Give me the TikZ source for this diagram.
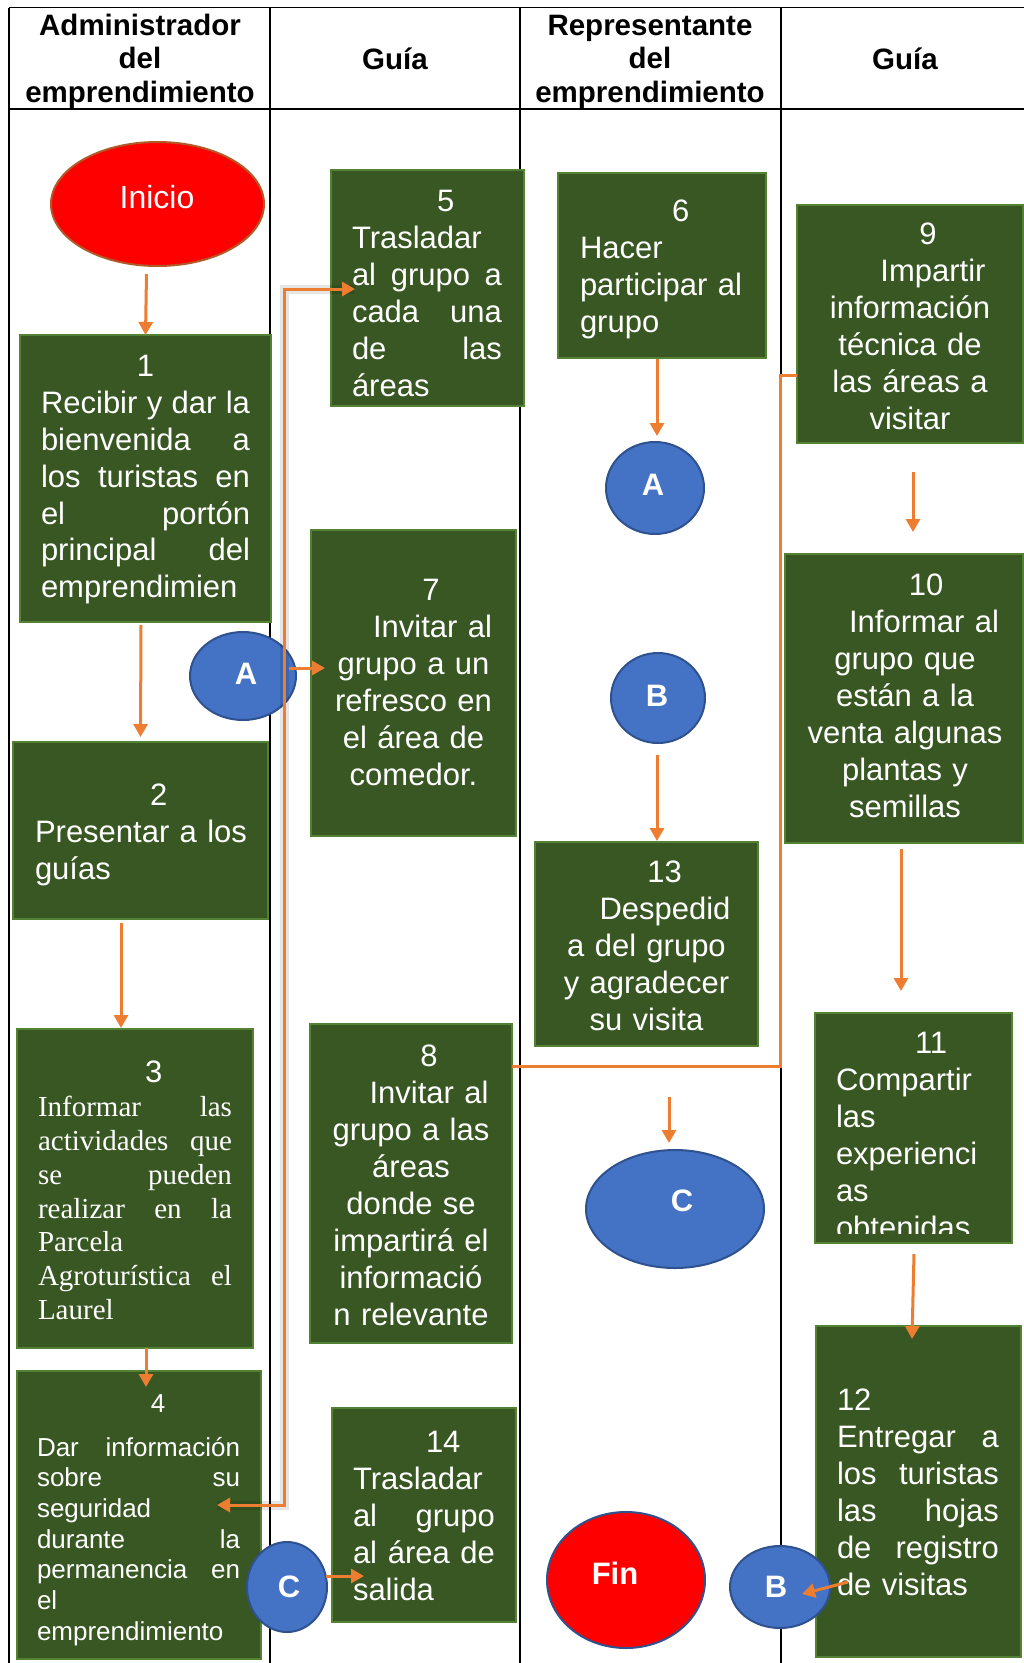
\documentclass[tikz,border=0pt]{standalone}
\usepackage{fontspec}
\setmainfont{Liberation Sans}
\newfontfamily\timesf{Liberation Serif}
\usetikzlibrary{arrows.meta,shapes.geometric}
\definecolor{boxfill}{RGB}{56,87,35}
\definecolor{boxborder}{RGB}{84,130,53}
\definecolor{orangec}{RGB}{237,125,49}
\definecolor{bluefill}{RGB}{68,114,196}
\definecolor{blueborder}{RGB}{47,82,143}
\definecolor{inicioborder}{RGB}{175,90,40}
\begin{document}
\begin{tikzpicture}[x=1pt,y=-1pt,
  gbox/.style={draw=boxborder,fill=boxfill,line width=2.5pt,inner sep=0pt,outer sep=0pt},
  bcirc/.style={ellipse,draw=blueborder,fill=bluefill,line width=2pt,inner sep=0pt,outer sep=0pt},
  oarrow/.style={draw=orangec,line width=3pt,-{Triangle[width=14pt,length=13pt]}},
  odouble/.style={draw=orangec,line width=3pt,{Triangle[width=14pt,length=13pt]}-{Triangle[width=14pt,length=13pt]}},
  oline/.style={draw=orangec,line width=3pt},
  lane/.style={draw=black,line width=1.8pt},
  tx/.style={inner sep=0pt,outer sep=0pt,text=white,anchor=north west,align=left,font=\fontsize{31}{37}\selectfont},
  txc/.style={tx,anchor=north,align=center},
  hd/.style={inner sep=0pt,anchor=north,align=center,font=\bfseries\fontsize{29.5}{33.5}\selectfont},
  ctext/.style={inner sep=0pt,text=white,font=\bfseries\fontsize{31}{37}\selectfont}
]
\useasboundingbox (0,0) rectangle (1024,1663);
% swimlane table
\draw[lane] (9,7.5) -- (1030,7.5);
\draw[lane] (9,109) -- (1030,109);
\draw[lane] (9,7.5) -- (9,1670);
\draw[lane] (270,7.5) -- (270,1670);
\draw[lane] (520,7.5) -- (520,1670);
\draw[lane] (781,7.5) -- (781,1670);
% headers
\node[hd] (h1) at (140,11.5) {\strut Administrador\\del\\emprendimiento};
\node[hd] (h2) at (395,45.5) {\strut Guía};
\node[hd] (h3) at (650,11.5) {\strut Representante\\del\\emprendimiento};
\node[hd] (h4) at (905,45.5) {\strut Guía};
% boxes
\node[gbox,minimum width=251,minimum height=287] (b1) at (145.5,478.5) {};
\node[gbox,minimum width=255,minimum height=177] (b2) at (140.5,830.5) {};
\node[gbox,minimum width=236,minimum height=319] (b3) at (135,1188.5) {};
\node[gbox,minimum width=244,minimum height=288] (b4) at (139,1515) {};
\node[gbox,minimum width=193,minimum height=236] (b5) at (427.5,288) {};
\node[gbox,minimum width=208,minimum height=185] (b6) at (662,265.5) {};
\node[gbox,minimum width=205,minimum height=306] (b7) at (413.5,683) {};
\node[gbox,minimum width=202,minimum height=319] (b8) at (411,1183.5) {};
\node[gbox,minimum width=226,minimum height=238] (b9) at (910,324) {};
\node[gbox,minimum width=238,minimum height=289] (b10) at (904,698.5) {};
\node[gbox,minimum width=197,minimum height=230] (b11) at (913.5,1128) {};
\node[gbox,minimum width=205,minimum height=331] (b12) at (918.5,1491.5) {};
\node[gbox,minimum width=223,minimum height=204] (b13) at (646.5,944) {};
\node[gbox,minimum width=184,minimum height=214] (b14) at (424,1515) {};
% box texts
\node[tx,text width=209,font=\fontsize{31}{36.8}\selectfont] (b1t) at (41,351.2)
 {\strut\hspace*{96pt}1\\Recibir\hfill y\hfill dar\hfill la\\bienvenida\hfill a\\los\hfill turistas\hfill en\\el\hfill portón\\principal\hfill del\\emprendimien};
\node[tx,text width=215] (b2t) at (35,780)
 {\strut\hspace*{115pt}2\\Presentar a los\\guías};
\node[tx,text width=194,font=\timesf\fontsize{29}{33.8}\selectfont] (b3t) at (38,1059.3)
 {\strut\hspace*{107pt}{\rmfamily\fontsize{31}{33.8}\selectfont 3}\\Informar\hfill las\\actividades\hfill que\\se\hfill pueden\\realizar\hfill en\hfill la\\Parcela\\Agroturística\hfill el\\Laurel};
\node[tx,text width=203,font=\fontsize{26}{30.7}\selectfont] (b4t) at (37,1390.5)
 {\strut\hspace*{114pt}4\\[13.3pt]Dar\hfill información\\sobre\hfill su\\seguridad\\durante\hfill la\\permanencia\hfill en\\el\\emprendimiento};
\node[tx,text width=150] (b5t) at (352,185.1)
 {\strut\hspace*{85pt}5\\Trasladar\\al\hfill grupo\hfill a\\cada\hfill una\\de\hfill las\\áreas};
\node[tx,text width=185] (b6t) at (580,196)
 {\strut\hspace*{92pt}6\\Hacer\\participar al\\grupo};
\node[txc,text width=200] (b7t) at (413.5,575)
 {\strut\hspace*{35pt}7\\\hspace*{38pt}Invitar al\\grupo a un\\refresco en\\el área de\\comedor.};
\node[txc,text width=200] (b8t) at (411,1041)
 {\strut\hspace*{36pt}8\\\hspace*{36pt}Invitar al\\grupo a las\\áreas\\donde se\\impartirá el\\informació\\n relevante};
\node[txc,text width=224] (b9t) at (910,219)
 {\strut\hspace*{36pt}9\\\hspace*{46pt}Impartir\\información\\técnica de\\las áreas a\\visitar};
\node[txc,text width=232] (b10t) at (905,570)
 {\strut\hspace*{42pt}10\\\hspace*{38pt}Informar al\\grupo que\\están a la\\venta algunas\\plantas y\\semillas};
\begin{scope}
\clip (815,1013) rectangle (1012,1233);
\node[tx,text width=175] (b11t) at (836,1028)
 {\strut\hspace*{79pt}11\\Compartir\\las\\experienci\\as\\obtenidas};
\end{scope}
\node[tx,text width=162] (b12t) at (837,1385)
 {\strut 12\\Entregar\hfill a\\los\hfill turistas\\las\hfill hojas\\de\hfill registro\\de visitas};
\node[txc,text width=215] (b13t) at (646.5,857)
 {\strut\hspace*{36pt}13\\\hspace*{37pt}Despedid\\a del grupo\\y agradecer\\su visita};
\node[tx,text width=142] (b14t) at (353,1427)
 {\strut\hspace*{73pt}14\\Trasladar\\al\hfill grupo\\al\hfill área\hfill de\\salida};
% terminals and connectors (circles)
\node[ellipse,draw=inicioborder,fill=red,line width=2pt,inner sep=0pt,minimum width=213,minimum height=124] (ini) at (157.5,204) {};
\node[inner sep=0pt,text=white,font=\fontsize{32}{38}\selectfont] (init) at (157,197) {Inicio};
\node[ellipse,draw=blueborder,fill=red,line width=2pt,inner sep=0pt,minimum width=158,minimum height=136] (fin) at (626,1580) {};
\node[ctext] (fint) at (615,1573) {Fin};
\node[bcirc,minimum width=106,minimum height=88] (A1) at (243,676) {};
\node[ctext] (A1t) at (246,674) {A};
\node[bcirc,minimum width=98,minimum height=92] (A2) at (655,488) {};
\node[ctext] (A2t) at (653,485) {A};
\node[bcirc,minimum width=94,minimum height=90] (B1) at (658,698) {};
\node[ctext] (B1t) at (657,696) {B};
\node[bcirc,minimum width=80,minimum height=90] (C1) at (287,1587) {};
\node[ctext] (C1t) at (289,1587) {C};
\node[bcirc,minimum width=178,minimum height=118] (C2) at (675,1209) {};
\node[ctext] (C2t) at (682,1201) {C};
\node[bcirc,minimum width=100,minimum height=82] (B2) at (780,1587) {};
\node[ctext] (B2t) at (776,1587) {B};
% connectors
\draw[line width=9pt,black,opacity=0.10] ([shift={(-44,-10)}]b4.east) -| ([shift={(-47,1)}]b5.west) -- ([shift={(24,1)}]b5.west);
\draw[odouble] ([shift={(-44,-10)}]b4.east) -| ([shift={(-47,1)}]b5.west) -- ([shift={(24,1)}]b5.west);
\draw[oarrow] ([shift={(-11,7)}]ini.south) -- (b1.north);
\draw[oarrow] ([shift={(-4.5,3)}]b1.south) -- ([shift={(0,-5)}]b2.north);
\draw[oarrow] ([shift={(-19.5,4)}]b2.south) -- ([shift={(-14,-1)}]b3.north);
\draw[oarrow] ([shift={(11,0)}]b3.south) -- ([shift={(7,16)}]b4.north);
\draw[oarrow] ([shift={(-7,-8)}]A1.east) -- ([shift={(14,-15)}]b7.west);
\draw[oarrow] ([shift={(-5,1)}]b6.south) -- ([shift={(2,-6)}]A2.north);
\draw[oarrow] ([shift={(3,29)}]b9.south) -- ([shift={(9,-22)}]b10.north);
\draw[oarrow] ([shift={(-3,6)}]b10.south) -- ([shift={(-12.5,-22)}]b11.north);
\draw[oarrow] ([shift={(0.5,11)}]b11.south) -- ([shift={(-6.5,13)}]b12.north);
\draw[oarrow] ([shift={(-1,12)}]B1.south) -- ([shift={(10.5,-1)}]b13.north);
\draw[oline] ([shift={(0,-117.5)}]b8.east) -| ([shift={(-17,51)}]b9.west) -- ([shift={(0,51)}]b9.west);
\coordinate (cin) at (669,1097);
\draw[oarrow] (cin) -- ([shift={(-6,-7)}]C2.north);
\draw[oarrow] ([shift={(-1,-11)}]C1.east) -- ([shift={(32,61)}]b14.west);
\draw[oarrow] ([shift={(32,90.5)}]b12.west) -- ([shift={(-28,7)}]B2.east);
\end{tikzpicture}
\end{document}
